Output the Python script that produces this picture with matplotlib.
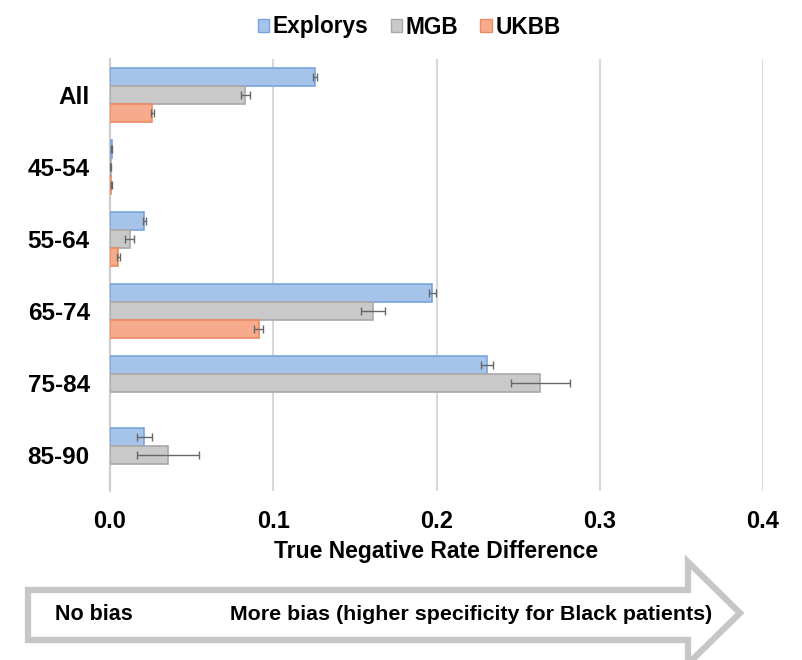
import numpy as np
import matplotlib.pyplot as plt
from matplotlib.patches import Polygon, Patch

plt.rcParams['font.family'] = ['Liberation Sans', 'DejaVu Sans']
plt.rcParams['font.weight'] = 'bold'
plt.rcParams['axes.labelweight'] = 'bold'

groups = ['All', '45-54', '55-64', '65-74', '75-84', '85-90']
series = ['Explorys', 'MGB', 'UKBB']

explorys = [0.1255, 0.0010, 0.0210, 0.1975, 0.2310, 0.0210]
mgb = [0.0830, 0.0005, 0.0120, 0.1610, 0.2635, 0.0355]
ukbb = [0.0260, 0.0007, 0.0050, 0.0910, np.nan, np.nan]

explorys_err = [0.0010, 0.0005, 0.0010, 0.0020, 0.0035, 0.0045]
mgb_err = [0.0030, 0.0003, 0.0030, 0.0075, 0.0180, 0.0190]
ukbb_err = [0.0010, 0.0003, 0.0010, 0.0030, np.nan, np.nan]

fills = ['#a6c4ea', '#c9c9c9', '#f7ab8c']
edges = ['#7aa4d9', '#a8a8a8', '#ec8a62']

fig = plt.figure(figsize=(8.03, 6.6), dpi=100)
ax = fig.add_axes([110 / 803, 1 - 491 / 660, 653 / 803, 432 / 660])

y = np.arange(len(groups))
h = 0.25
for k, (vals, errs) in enumerate(zip([explorys, mgb, ukbb],
                                     [explorys_err, mgb_err, ukbb_err])):
    pos = y + (k - 1) * h
    ax.barh(pos, vals, height=h, color=fills[k], edgecolor=edges[k],
            linewidth=1.2, zorder=3, label=series[k])
    ax.errorbar(vals, pos, xerr=errs, fmt='none', ecolor='#666666',
                elinewidth=1, capsize=3, capthick=1, zorder=4)

ax.set_xlim(0, 0.4)
ax.set_ylim(len(groups) - 0.5, -0.5)
ax.set_xticks([0, 0.1, 0.2, 0.3, 0.4])
ax.set_xticklabels(['0.0', '0.1', '0.2', '0.3', '0.4'])
ax.set_yticks(y)
ax.set_yticklabels(groups)
ax.tick_params(axis='y', length=0, labelsize=17.5, pad=14.5)
ax.tick_params(axis='x', length=0, labelsize=17, pad=14)
ax.grid(axis='x', color='#d9d9d9', linewidth=1.5, zorder=0)
for s in ['top', 'right', 'bottom']:
    ax.spines[s].set_visible(False)
ax.spines['left'].set_color('#cccccc')
ax.spines['left'].set_linewidth(1.5)
ax.set_xlabel('True Negative Rate Difference', fontsize=16.5, fontweight='bold',
              labelpad=5)

handles = [Patch(facecolor=fills[k], edgecolor=edges[k]) for k in range(3)]
fig.legend(handles, series, loc='center', bbox_to_anchor=(409 / 803, 1 - 27 / 660),
           ncol=3, frameon=False, fontsize=16.3, handlelength=0.5,
           handleheight=0.5, handletextpad=0.15, columnspacing=1.0)

# arrow banner below the axis, drawn in pixel coordinates
over = fig.add_axes([0, 0, 1, 1], zorder=-1)
over.set_xlim(0, 803)
over.set_ylim(660, 0)
over.axis('off')
arrow = Polygon([(28, 590), (688, 590), (688, 562), (740, 613),
                 (688, 664), (688, 640), (28, 640)], closed=True,
                facecolor='white', edgecolor='#c6c6c6', linewidth=4.5)
over.add_patch(arrow)
over.text(55, 614, 'No bias', fontsize=15.5, va='center', ha='left')
over.text(230, 614, 'More bias (higher specificity for Black patients)',
          fontsize=15.4, va='center', ha='left')

fig.savefig('out.png', dpi=100)
